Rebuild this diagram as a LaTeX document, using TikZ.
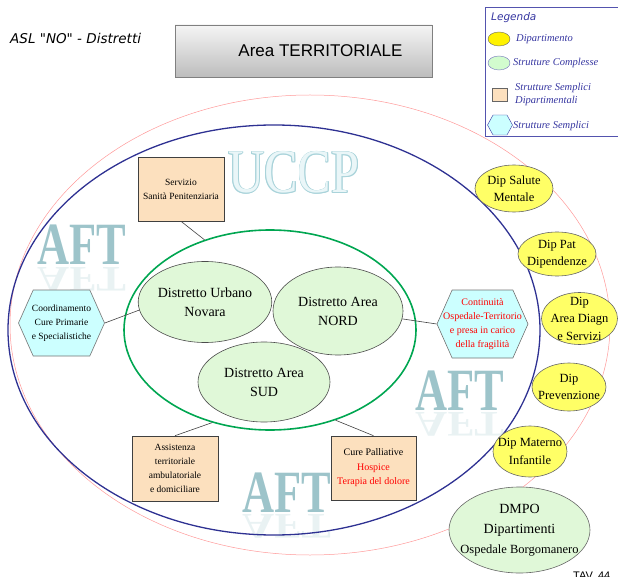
\documentclass[tikz,border=0pt]{standalone}
\usepackage{graphicx}
\usepackage{fontspec}
\setmainfont{Liberation Serif}
\newfontfamily\arialfont{Liberation Sans}
\newfontfamily\comicfont{DejaVu Sans}
\usetikzlibrary{shapes.geometric,shapes.symbols}

\definecolor{boxtan}{HTML}{FCE0BE}
\definecolor{distgreen}{HTML}{E0F8D8}
\definecolor{dipyellow}{HTML}{FFFF66}
\definecolor{hexcyan}{HTML}{CCFFFF}
\definecolor{ringblue}{HTML}{2E3192}
\definecolor{ringred}{HTML}{FF9999}
\definecolor{ringgreen}{HTML}{00A651}
\definecolor{legblue}{HTML}{3535A0}
\definecolor{aftteal}{HTML}{9DC4CA}
\definecolor{uccpfill}{HTML}{EAF6F8}
\definecolor{uccpline}{HTML}{A9D3DA}

\newcommand\aftword{\scalebox{0.74}[1]{\fontsize{60}{60}\selectfont\bfseries AFT}}
\newcommand\aftflip{\scalebox{0.74}[-0.6]{\fontsize{60}{60}\selectfont\bfseries AFT}}
\newcommand\uccpword{\scalebox{0.81}[1]{\fontsize{62}{62}\selectfont UCCP}}

\begin{document}
\begin{tikzpicture}[x=1pt,y=-1pt,
  distretto/.style={ellipse,draw=black!70,fill=distgreen,line width=0.6pt,inner sep=0pt,
    minimum width=131pt,minimum height=81pt,align=center,font=\fontsize{14}{19}\selectfont},
  dip/.style={ellipse,draw=black!60,fill=dipyellow,line width=0.6pt,inner sep=0pt,
    minimum width=78pt,minimum height=47pt},
  diptext/.style={align=center,inner sep=0pt,font=\fontsize{12.5}{17.5}\selectfont},
  servbox/.style={rectangle,draw=black!75,fill=boxtan,line width=0.6pt,minimum width=86pt,
    minimum height=64pt,align=center,font=\fontsize{9.5}{14}\selectfont},
  hexa/.style={signal,signal to=east and west,signal pointer angle=132,draw=black!55,
    fill=hexcyan,line width=0.6pt,minimum width=86pt,minimum height=66pt,inner sep=0pt},
  hextext/.style={align=center,inner sep=0pt,font=\fontsize{9.5}{14}\selectfont},
  link/.style={draw=black!75,line width=0.6pt},
  legtext/.style={anchor=west,inner sep=0pt,text=legblue,align=left,
    font=\fontsize{10.5}{13}\selectfont\itshape},
  wordmark/.style={anchor=base west,inner sep=0pt}
]
\useasboundingbox (0,0) rectangle (618,577);
\clip (0,0) rectangle (618,577);

\foreach \x/\y in {37/265, 415/410, 242/512} {
  \node[wordmark,text=aftteal] at (\x,\y) {\aftword};
  \node[wordmark,text=aftteal,opacity=0.22] at (\x,\y+2) {\aftflip};
}
\foreach \dx/\dy in {-0.8/0,0.8/0,0/-0.8,0/0.8,-0.6/-0.6,0.6/0.6,-0.6/0.6,0.6/-0.6}
  \node[wordmark,text=uccpline] at (228+\dx,193+\dy) {\uccpword};
\node[wordmark,text=uccpfill] (uccp) at (228,193) {\uccpword};

\draw[ringred,line width=0.5pt] (310,325) ellipse [x radius=300, y radius=230];
\draw[ringblue,line width=1.3pt] (274,330) ellipse [x radius=266, y radius=205];
\node[ellipse,draw=ringgreen,line width=1.6pt,minimum width=292pt,minimum height=200pt,inner sep=0pt] (area) at (270,330) {};

\node[anchor=base west,inner sep=0pt,font=\comicfont\itshape\fontsize{13.5}{16}\selectfont] (asl) at (10,44) {ASL "NO" - Distretti};
\node[draw=black!50,line width=0.8pt,top color=black!4,bottom color=black!26,minimum width=257pt,minimum height=52pt] (areabox) at (303.5,51) {};
\node[font=\arialfont\fontsize{17}{20}\selectfont] (areatext) at ([xshift=17pt]areabox.center) {Area TERRITORIALE};

\draw[legblue!85,line width=0.8pt] (485,7) rectangle (625,136);
\node[wordmark,text=legblue,font=\comicfont\itshape\fontsize{10.5}{12}\selectfont] (legtitle) at (491,21) {Legenda};
\node[ellipse,draw=black!60,fill=yellow,minimum width=22pt,minimum height=14pt,inner sep=0pt] (legdip) at (499,39) {};
\node[legtext] at (516,39) {Dipartimento};
\node[ellipse,draw=legblue!70,fill=distgreen!80!green!60,minimum width=22pt,minimum height=14pt,inner sep=0pt] (legsc) at (499,63) {};
\node[legtext] at (513,63) {Strutture Complesse};
\node[rectangle,draw=black!60,fill=boxtan,minimum width=15pt,minimum height=13pt,inner sep=0pt] (legssd) at (499.5,95) {};
\node[legtext] at (515,94) {Strutture Semplici\\Dipartimentali};
\node[signal,signal to=east and west,signal pointer angle=122,draw=legblue,fill=hexcyan,minimum width=25pt,minimum height=20pt,inner sep=0pt] (legss) at (500,125) {};
\node[legtext] at (513,126) {Strutture Semplici};

\node[distretto] (urbano) at (205,302) {Distretto Urbano\\Novara};
\node[distretto,minimum width=130pt,minimum height=88pt] (nord) at (338,311) {Distretto Area\\NORD};
\node[distretto,minimum width=132pt,minimum height=80pt] (sud) at (264,382) {Distretto Area\\SUD};

\node[servbox] (servizio) at (181,189) {Servizio\\Sanità Penitenziaria};
\node[servbox,minimum height=65pt] (assistenza) at (175,468.5) {Assistenza\\territoriale\\ambulatoriale\\e domiciliare};
\node[servbox,minimum width=85pt,font=\fontsize{10}{14.5}\selectfont] (cure) at (373.5,468) {Cure Palliative\\\textcolor{red}{Hospice}\\\textcolor{red}{Terapia del dolore}};

\node[hexa] (coord) at (61.5,323) {};
\node[hextext] at (coord) {Coordinamento\\Cure Primarie\\e Specialistiche};
\node[hexa,minimum width=91pt,minimum height=68pt] (cont) at (482.5,324) {};
\node[hextext,text=red,font=\fontsize{10}{14}\selectfont] at (cont) {Continuità\\Ospedale-Territorio\\e presa in carico\\della fragilità};

\draw[link] (servizio.south) -- (area.126);
\draw[link] (assistenza.north) -- (area.238);
\draw[link] (cure.north) -- (area.306);
\draw[link] (coord.east) -- (urbano.187);
\draw[link] (cont.west) -- (nord.353);

\node[dip] (salute) at (514,188.5) {};
\node[diptext] at (salute) {Dip Salute\\Mentale};
\node[dip,minimum height=44pt] (dipend) at (557,254) {};
\node[diptext] at (dipend) {Dip Pat\\Dipendenze};
\node[dip,minimum width=76pt,minimum height=52pt] (diagn) at (579.5,318.5) {};
\node[diptext] at (diagn) {Dip\\Area Diagn\\e Servizi};
\node[dip,minimum width=74pt,minimum height=48pt] (prev) at (569,387) {};
\node[diptext] at (prev) {Dip\\Prevenzione};
\node[dip,minimum width=74pt,minimum height=51pt] (materno) at (530,451.5) {};
\node[diptext] at (materno) {Dip Materno\\Infantile};
\node[ellipse,draw=black!60,fill=distgreen,line width=0.6pt,minimum width=141pt,minimum height=86pt,inner sep=0pt] (dmpo) at (519.5,530) {};
\node[diptext,font=\fontsize{14}{20}\selectfont] at (dmpo) {DMPO\\Dipartimenti\\\fontsize{12.5}{18}\selectfont Ospedale Borgomanero};

\node[anchor=north west,inner sep=0pt,font=\arialfont\fontsize{11}{12}\selectfont] (tav) at (573,572) {TAV. 44};
\end{tikzpicture}
\end{document}
